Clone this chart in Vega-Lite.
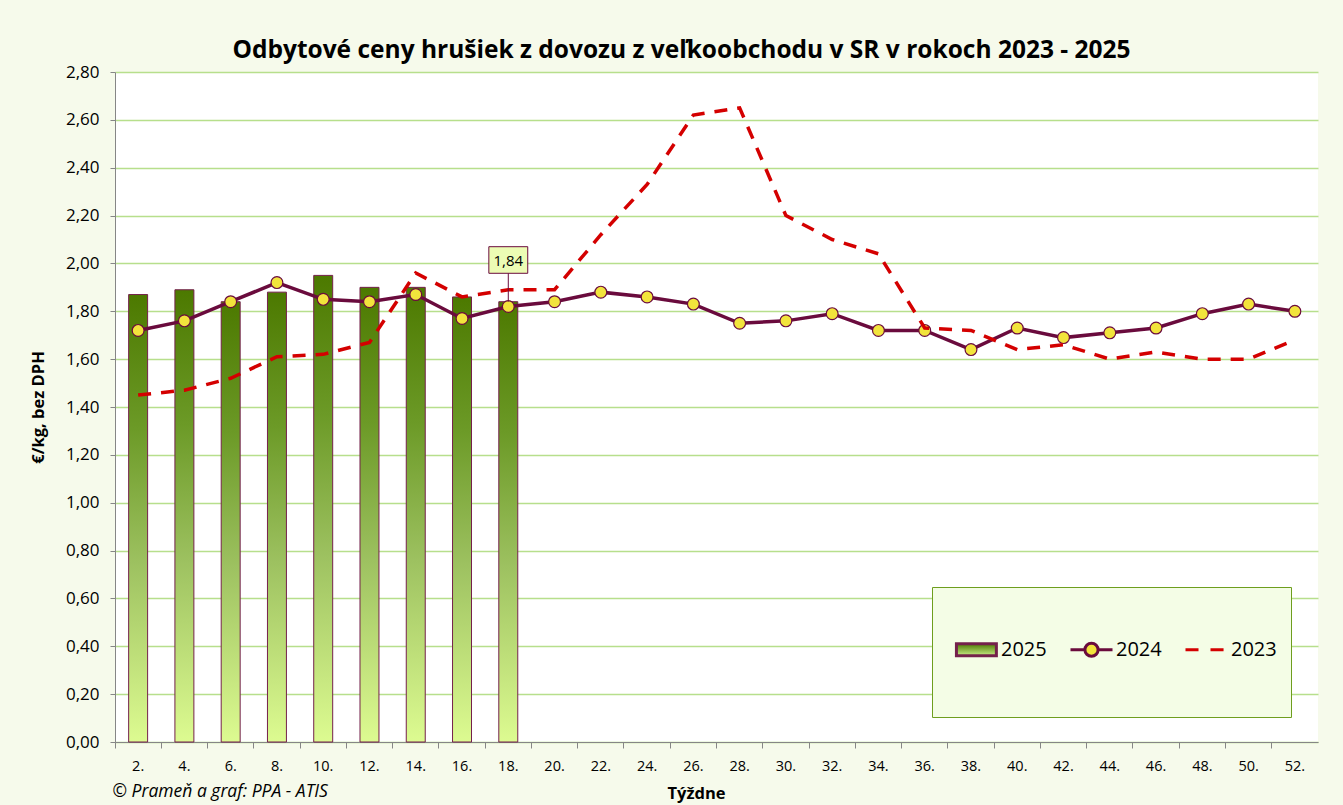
{
  "$schema": "https://vega.github.io/schema/vega-lite/v6.json",
  "width": 1203,
  "height": 670,
  "autosize": {"type": "none"},
  "padding": {"left": 115, "top": 72, "right": 25, "bottom": 63},
  "background": "#F6FAEB",
  "config": {
    "view": {"fill": "white", "stroke": null},
    "font": "Open Sans",
    "locale": {"number": {"decimal": ",", "thousands": " ", "grouping": [3], "currency": ["", " €"]}}
  },
  "title": {
    "text": "Odbytové ceny hrušiek z dovozu z veľkoobchodu v SR v rokoch 2023 - 2025",
    "fontSize": 24.5,
    "fontWeight": "bold",
    "font": "Open Sans",
    "color": "black",
    "anchor": "middle",
    "frame": "group",
    "dx": -35,
    "offset": 0
  },
  "data": {
    "values": [
      {"w": "2.", "series": "2025", "value": 1.87},
      {"w": "4.", "series": "2025", "value": 1.89},
      {"w": "6.", "series": "2025", "value": 1.84},
      {"w": "8.", "series": "2025", "value": 1.88},
      {"w": "10.", "series": "2025", "value": 1.95},
      {"w": "12.", "series": "2025", "value": 1.90},
      {"w": "14.", "series": "2025", "value": 1.90},
      {"w": "16.", "series": "2025", "value": 1.86},
      {"w": "18.", "series": "2025", "value": 1.84},
      {"w": "2.", "series": "2024", "value": 1.72},
      {"w": "4.", "series": "2024", "value": 1.76},
      {"w": "6.", "series": "2024", "value": 1.84},
      {"w": "8.", "series": "2024", "value": 1.92},
      {"w": "10.", "series": "2024", "value": 1.85},
      {"w": "12.", "series": "2024", "value": 1.84},
      {"w": "14.", "series": "2024", "value": 1.87},
      {"w": "16.", "series": "2024", "value": 1.77},
      {"w": "18.", "series": "2024", "value": 1.82},
      {"w": "20.", "series": "2024", "value": 1.84},
      {"w": "22.", "series": "2024", "value": 1.88},
      {"w": "24.", "series": "2024", "value": 1.86},
      {"w": "26.", "series": "2024", "value": 1.83},
      {"w": "28.", "series": "2024", "value": 1.75},
      {"w": "30.", "series": "2024", "value": 1.76},
      {"w": "32.", "series": "2024", "value": 1.79},
      {"w": "34.", "series": "2024", "value": 1.72},
      {"w": "36.", "series": "2024", "value": 1.72},
      {"w": "38.", "series": "2024", "value": 1.64},
      {"w": "40.", "series": "2024", "value": 1.73},
      {"w": "42.", "series": "2024", "value": 1.69},
      {"w": "44.", "series": "2024", "value": 1.71},
      {"w": "46.", "series": "2024", "value": 1.73},
      {"w": "48.", "series": "2024", "value": 1.79},
      {"w": "50.", "series": "2024", "value": 1.83},
      {"w": "52.", "series": "2024", "value": 1.80},
      {"w": "2.", "series": "2023", "value": 1.45},
      {"w": "4.", "series": "2023", "value": 1.47},
      {"w": "6.", "series": "2023", "value": 1.52},
      {"w": "8.", "series": "2023", "value": 1.61},
      {"w": "10.", "series": "2023", "value": 1.62},
      {"w": "12.", "series": "2023", "value": 1.67},
      {"w": "14.", "series": "2023", "value": 1.96},
      {"w": "16.", "series": "2023", "value": 1.86},
      {"w": "18.", "series": "2023", "value": 1.89},
      {"w": "20.", "series": "2023", "value": 1.89},
      {"w": "22.", "series": "2023", "value": 2.12},
      {"w": "24.", "series": "2023", "value": 2.33},
      {"w": "26.", "series": "2023", "value": 2.62},
      {"w": "28.", "series": "2023", "value": 2.65},
      {"w": "30.", "series": "2023", "value": 2.20},
      {"w": "32.", "series": "2023", "value": 2.10},
      {"w": "34.", "series": "2023", "value": 2.04},
      {"w": "36.", "series": "2023", "value": 1.73},
      {"w": "38.", "series": "2023", "value": 1.72},
      {"w": "40.", "series": "2023", "value": 1.64},
      {"w": "42.", "series": "2023", "value": 1.66},
      {"w": "44.", "series": "2023", "value": 1.60},
      {"w": "46.", "series": "2023", "value": 1.63},
      {"w": "48.", "series": "2023", "value": 1.60},
      {"w": "50.", "series": "2023", "value": 1.60},
      {"w": "52.", "series": "2023", "value": 1.68}
    ]
  },
  "encoding": {
    "y": {
      "field": "value",
      "type": "quantitative",
      "scale": {"domain": [0, 2.8], "nice": false, "zero": true},
      "axis": {
        "values": [0, 0.2, 0.4, 0.6, 0.8, 1.0, 1.2, 1.4, 1.6, 1.8, 2.0, 2.2, 2.4, 2.6, 2.8],
        "format": ".2f",
        "labelFontSize": 17,
        "labelColor": "black",
        "labelPadding": 11,
        "tickSize": 5,
        "tickColor": "#868686",
        "domainColor": "#868686",
        "gridColor": "#B7DF8C",
        "gridWidth": 1.3,
        "title": "€/kg, bez DPH",
        "titleFontSize": 16.5,
        "titleFontWeight": "bold",
        "titleColor": "black",
        "titlePadding": 19
      }
    }
  },
  "layer": [
    {
      "transform": [{"filter": "datum.series === '2025'"}],
      "mark": {
        "type": "bar",
        "width": {"band": 0.41},
        "stroke": "#74204B",
        "strokeWidth": 1,
        "fill": {
          "gradient": "linear",
          "x1": 0, "y1": 0, "x2": 0, "y2": 1,
          "stops": [
            {"offset": 0, "color": "#4C7900"},
            {"offset": 0.3, "color": "#6C9A27"},
            {"offset": 0.6, "color": "#9DC160"},
            {"offset": 1, "color": "#DDFB91"}
          ]
        }
      },
      "encoding": {
        "x": {
          "field": "w",
          "type": "ordinal",
          "scale": {
            "type": "band",
            "paddingInner": 0,
            "paddingOuter": 0,
            "domain": ["2.", "4.", "6.", "8.", "10.", "12.", "14.", "16.", "18.", "20.", "22.", "24.", "26.", "28.", "30.", "32.", "34.", "36.", "38.", "40.", "42.", "44.", "46.", "48.", "50.", "52."]
          },
          "axis": {
            "orient": "bottom",
            "bandPosition": 0,
            "labels": false,
            "tickSize": 6,
            "tickColor": "#868686",
            "domainColor": "#868686",
            "grid": false,
            "title": "© Prameň a graf: PPA - ATIS",
            "titleFontSize": 17.5,
            "titleFontWeight": "normal",
            "titleFontStyle": "italic",
            "titleColor": "black",
            "titleAnchor": "start",
            "titleAlign": "left",
            "titleX": -3,
            "titleY": 49,
            "titleBaseline": "middle"
          }
        }
      }
    },
    {
      "transform": [{"filter": "datum.series === '2024'"}],
      "mark": {"type": "line", "stroke": "#6A0B3D", "strokeWidth": 3.5},
      "encoding": {
        "x": {
          "field": "w",
          "type": "ordinal",
          "axis": {
            "orient": "bottom",
            "ticks": false,
            "tickSize": 0,
            "domain": false,
            "grid": false,
            "labelAngle": 0,
            "labelFontSize": 14.5,
            "labelColor": "black",
            "labelPadding": 17,
            "title": "Týždne",
            "titleFontSize": 16.5,
            "titleFontWeight": "bold",
            "titleColor": "black",
            "titleX": 581,
            "titleY": 51,
            "titleBaseline": "middle",
            "titleAlign": "center"
          }
        }
      }
    },
    {
      "transform": [{"filter": "datum.series === '2024'"}],
      "mark": {"type": "point", "shape": "circle", "filled": true, "size": 140, "fill": "#F2E43C", "stroke": "#6A0B3D", "strokeWidth": 1.2, "opacity": 1},
      "encoding": {"x": {"field": "w", "type": "ordinal", "axis": null}}
    },
    {
      "transform": [{"filter": "datum.series === '2023'"}],
      "mark": {"type": "line", "stroke": "#D40000", "strokeWidth": 3.5, "strokeDash": [13, 10]},
      "encoding": {"x": {"field": "w", "type": "ordinal", "axis": null}}
    },
    {
      "transform": [{"filter": "datum.series === '2025' && datum.w === '18.'"}],
      "mark": {
        "type": "point",
        "shape": "M0,0L0,-2.03M-1.39,-2.03L1.39,-2.03L1.39,-3.93L-1.39,-3.93Z",
        "size": 784,
        "filled": true,
        "fill": "#ECFCB4",
        "stroke": "#6A0B3D",
        "strokeWidth": 1,
        "opacity": 1
      },
      "encoding": {"x": {"field": "w", "type": "ordinal", "axis": null}}
    },
    {
      "transform": [{"filter": "datum.series === '2025' && datum.w === '18.'"}],
      "mark": {"type": "text", "dy": -41, "fontSize": 15, "color": "black", "baseline": "middle"},
      "encoding": {
        "x": {"field": "w", "type": "ordinal", "axis": null},
        "text": {"field": "value", "type": "quantitative", "format": ".2f"}
      }
    },
    {
      "transform": [{"filter": "datum.series === 'none'"}],
      "mark": {"type": "point", "filled": true, "opacity": 1},
      "encoding": {
        "x": {"field": "w", "type": "ordinal", "axis": null},
        "shape": {
          "field": "series",
          "type": "nominal",
          "scale": {
            "domain": ["2025", "2024", "2023"],
            "range": [
              "M0,-1M0,1M-0.81,-0.13H0.04V0.13H-0.81Z",
              "M0,-1M0,1M-0.83,0H-0.523M-0.243,0H0.064M-0.523,0A0.14,0.14 0 1,0 -0.243,0A0.14,0.14 0 1,0 -0.523,0Z",
              "M0,-1M0,1M-0.83,0H-0.553M-0.298,0H-0.02"
            ]
          },
          "legend": {
            "orient": "none",
            "legendX": 817,
            "legendY": 515,
            "direction": "horizontal",
            "title": null,
            "fillColor": "#F4FDE6",
            "strokeColor": "#6E9E1E",
            "padding": 14,
            "symbolSize": 8836,
            "symbolOpacity": 1,
            "symbolStrokeWidth": 3,
            "labelFontSize": 20,
            "labelColor": "black",
            "labelOffset": -42,
            "columnPadding": 14
          }
        },
        "fill": {
          "field": "series",
          "type": "nominal",
          "scale": {
            "domain": ["2025", "2024", "2023"],
            "range": [
              {"expr": "{gradient: 'linear', x1: 0, y1: 0, x2: 0, y2: 1, stops: [{offset: 0, color: '#4C7900'}, {offset: 1, color: '#C9EC88'}]}"},
              "#F2E43C",
              "transparent"
            ]
          },
          "legend": {
            "orient": "none",
            "legendX": 817,
            "legendY": 515,
            "direction": "horizontal",
            "title": null,
            "fillColor": "#F4FDE6",
            "strokeColor": "#6E9E1E",
            "padding": 14,
            "symbolSize": 8836,
            "symbolOpacity": 1,
            "symbolStrokeWidth": 3,
            "labelFontSize": 20,
            "labelColor": "black",
            "labelOffset": -42,
            "columnPadding": 14
          }
        },
        "stroke": {
          "field": "series",
          "type": "nominal",
          "scale": {
            "domain": ["2025", "2024", "2023"],
            "range": ["#74204B", "#6A0B3D", "#D40000"]
          },
          "legend": {
            "orient": "none",
            "legendX": 817,
            "legendY": 515,
            "direction": "horizontal",
            "title": null,
            "fillColor": "#F4FDE6",
            "strokeColor": "#6E9E1E",
            "padding": 14,
            "symbolSize": 8836,
            "symbolOpacity": 1,
            "symbolStrokeWidth": 3,
            "labelFontSize": 20,
            "labelColor": "black",
            "labelOffset": -42,
            "columnPadding": 14
          }
        }
      }
    }
  ],
  "resolve": {"axis": {"x": "independent"}}
}
